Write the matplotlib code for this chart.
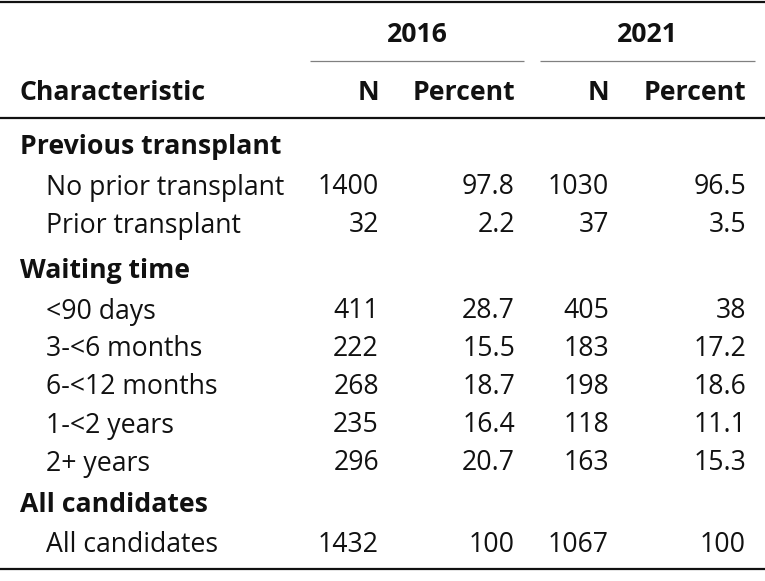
import matplotlib
matplotlib.use("Agg")
import matplotlib.pyplot as plt

plt.rcParams['font.family'] = ['Open Sans', 'DejaVu Sans']

groups = ["Previous transplant", "Waiting time", "All candidates"]
labels = [
    ["No prior transplant", "Prior transplant"],
    ["<90 days", "3-<6 months", "6-<12 months", "1-<2 years", "2+ years"],
    ["All candidates"],
]
n_2016 = [[1400, 32], [411, 222, 268, 235, 296], [1432]]
pct_2016 = [["97.8", "2.2"], ["28.7", "15.5", "18.7", "16.4", "20.7"], ["100"]]
n_2021 = [[1030, 37], [405, 183, 198, 118, 163], [1067]]
pct_2021 = [["96.5", "3.5"], ["38", "17.2", "18.6", "11.1", "15.3"], ["100"]]
years = ["2016", "2021"]
col_heads = ["Characteristic", "N", "Percent", "N", "Percent"]

W, H = 765, 581
fig = plt.figure(figsize=(W / 100, H / 100), dpi=100)
ax = fig.add_axes([0, 0, 1, 1])
ax.set_xlim(0, W)
ax.set_ylim(H, 0)
ax.axis('off')

fs = 19.2
col_x = [20, 379, 515, 609, 746]
ink = '#111111'
half_cap = 9.5      # baseline offset from cap centre
body_top = 118
row_h = 38.0
grp_heights = [48, 48, 44]
grp_base_from_bottom = 11.5
bottom_rule = 569

# top rule
ax.plot([0, W], [2, 2], color=ink, lw=1.6, solid_capstyle='butt')
# spanners
span = [(310, 524), (540, 755)]
for (x0, x1), yr in zip(span, years):
    ax.text((x0 + x1) / 2, 42, yr, ha='center', va='baseline', fontsize=fs, fontweight='bold', color=ink)
    ax.plot([x0, x1], [61, 61], color='#808080', lw=0.9, solid_capstyle='butt')
# column heads
for i, (x, h) in enumerate(zip(col_x, col_heads)):
    ax.text(x, 100, h, ha='left' if i == 0 else 'right', va='baseline', fontsize=fs, fontweight='bold', color=ink)
ax.plot([0, W], [body_top, body_top], color=ink, lw=1.6, solid_capstyle='butt')

y_cur = body_top
for g in range(len(groups)):
    y_cur += grp_heights[g]
    ax.text(col_x[0], y_cur - grp_base_from_bottom, groups[g], ha='left', va='baseline',
            fontsize=fs, fontweight='bold', color=ink)
    for r, lab in enumerate(labels[g]):
        yb = y_cur + row_h / 2 + half_cap
        ax.text(46, yb, lab, ha='left', va='baseline', fontsize=fs, color=ink)
        vals = [str(n_2016[g][r]), pct_2016[g][r], str(n_2021[g][r]), pct_2021[g][r]]
        for x, v in zip(col_x[1:], vals):
            ax.text(x, yb, v, ha='right', va='baseline', fontsize=fs, color=ink)
        y_cur += row_h

ax.plot([0, W], [bottom_rule, bottom_rule], color=ink, lw=1.6, solid_capstyle='butt')

fig.savefig("out.png", dpi=100)
